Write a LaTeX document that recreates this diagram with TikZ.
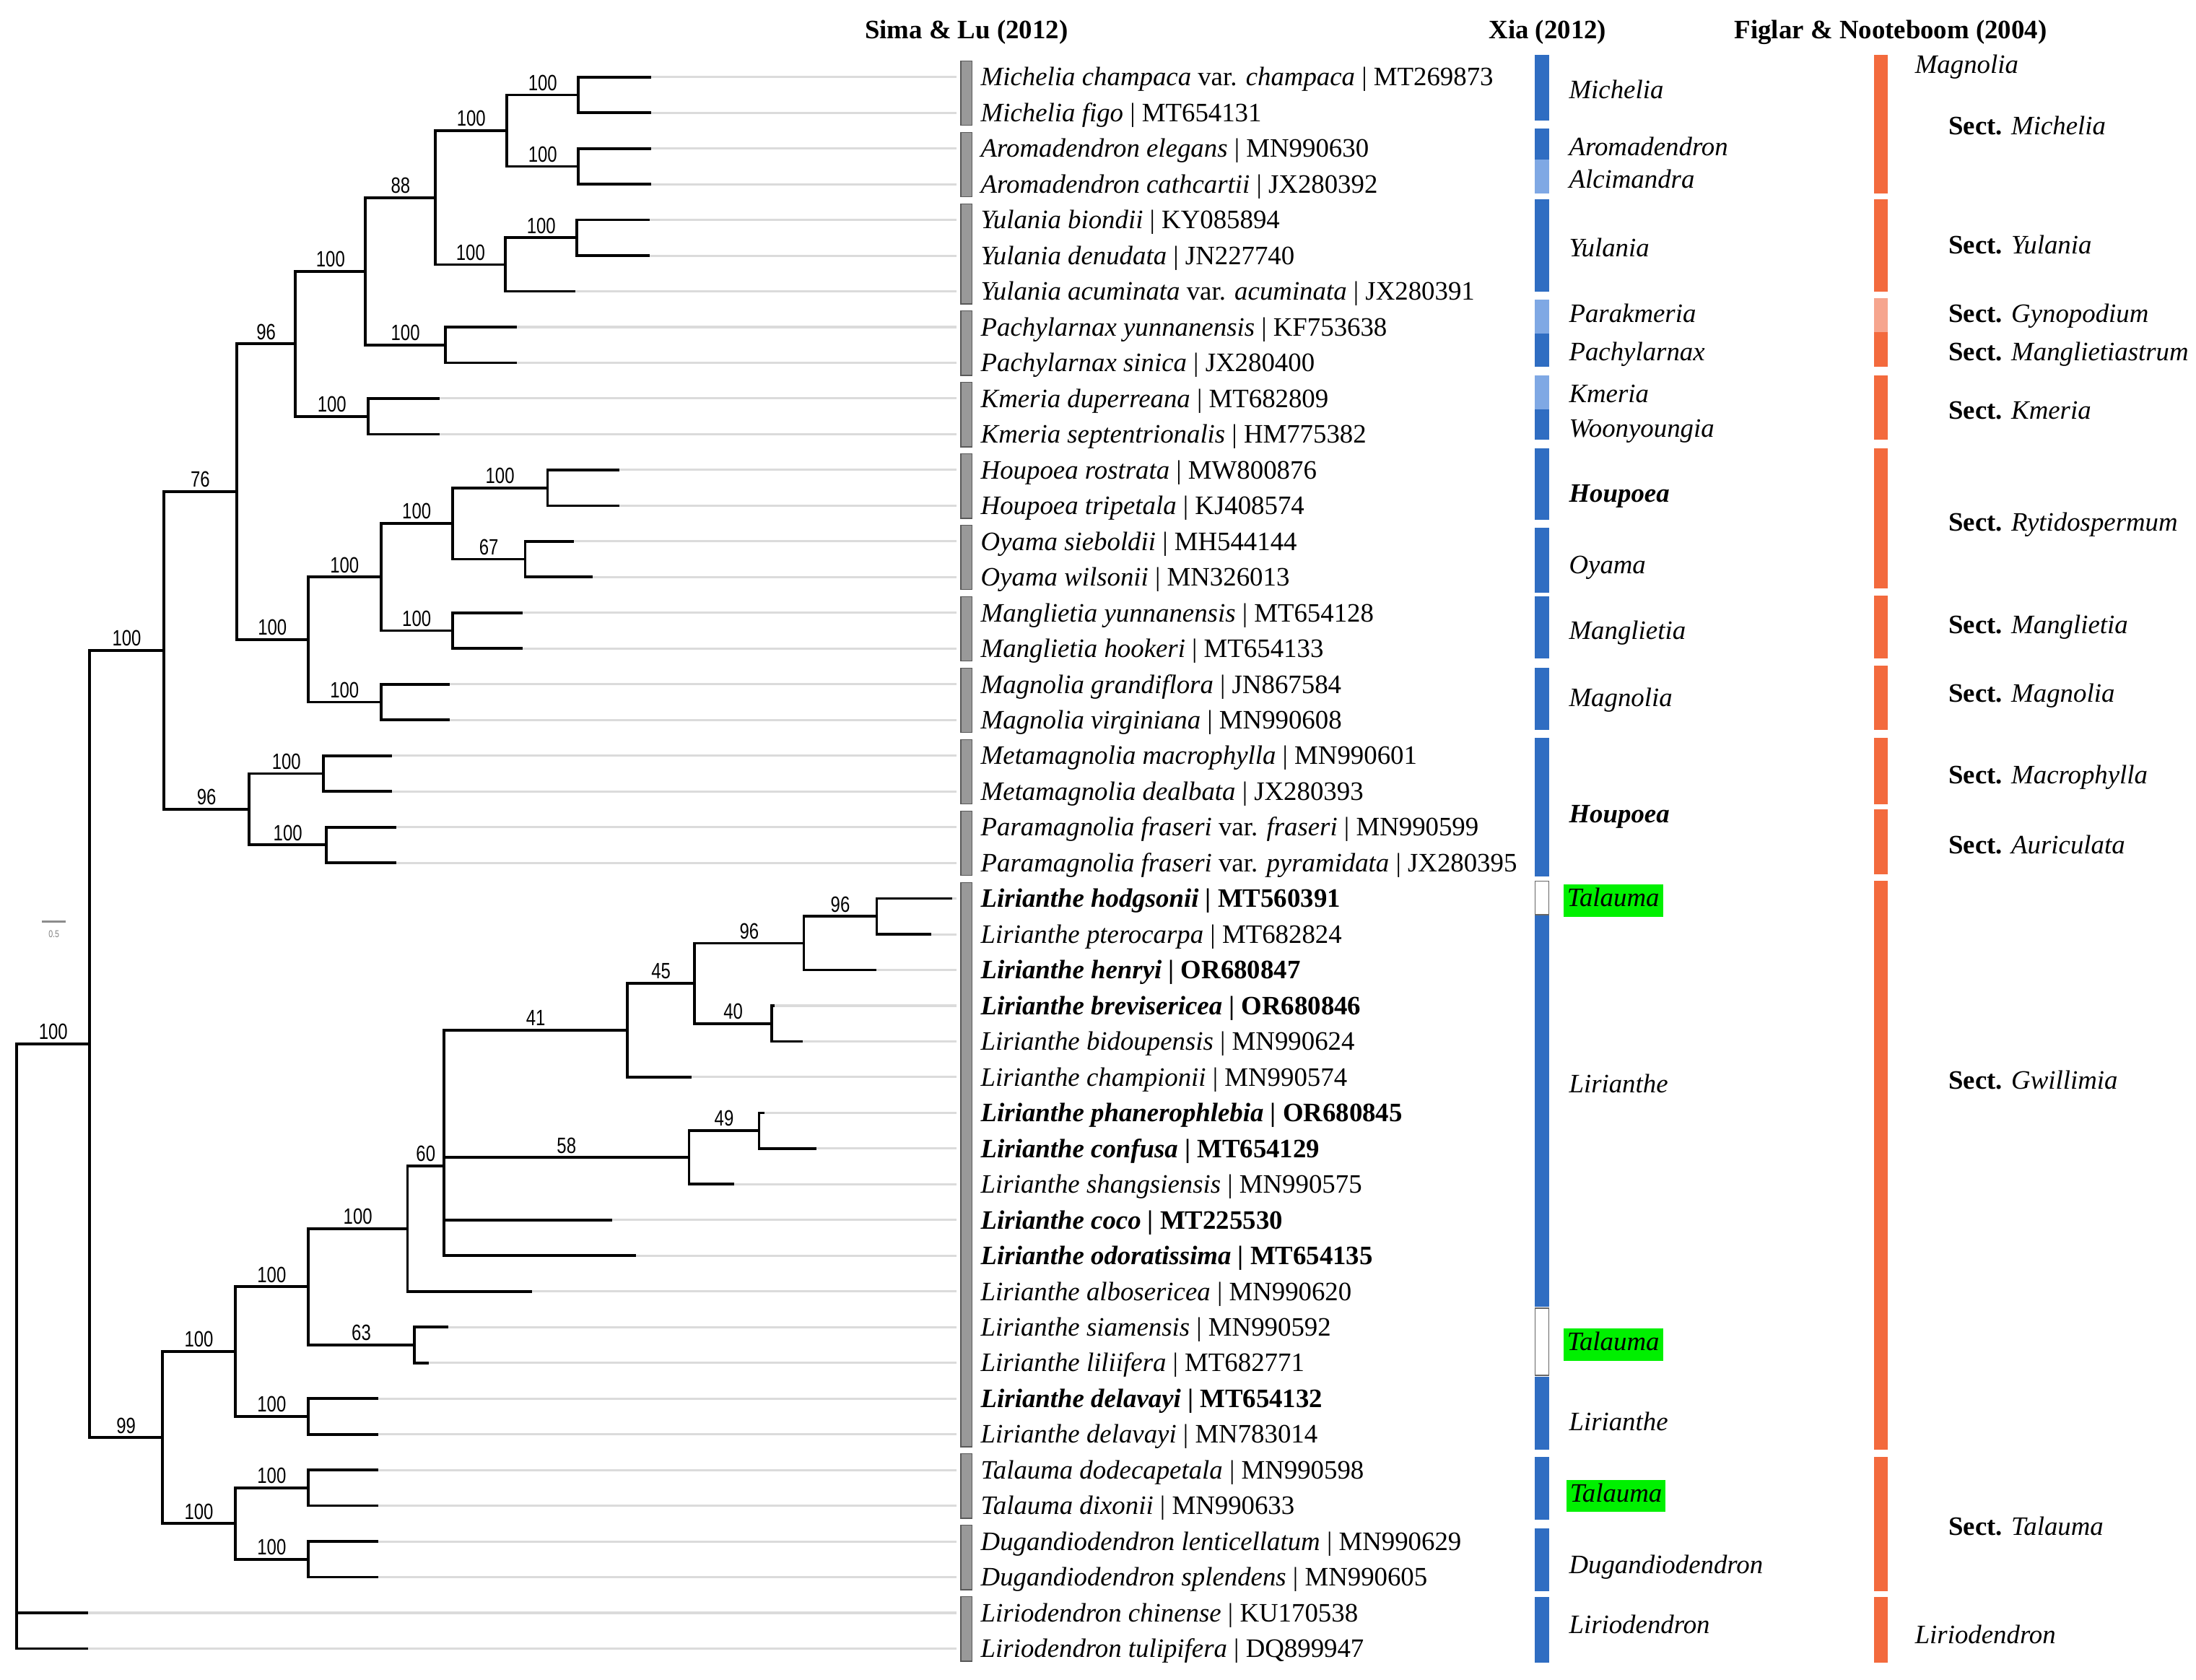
\documentclass[tikz,border=0pt]{standalone}
\usepackage{fontspec}
\setmainfont{Liberation Serif}
\newfontfamily\bsfont[FakeStretch=0.78]{Liberation Sans}
\usepackage{tikz}
\definecolor{xiadark}{HTML}{2F6DC2}
\definecolor{xialight}{HTML}{7FA8E4}
\definecolor{figorange}{HTML}{F36A3D}
\definecolor{figlight}{HTML}{F6A58E}
\definecolor{hilite}{HTML}{00F000}

\begin{document}
\begin{tikzpicture}[x=0.2mm, y=-0.2mm,
  br/.style={line width=1.1pt},
  ext/.style={line width=0.9pt, black!14},
  bs/.style={pos=.75, above, inner sep=1.2pt, font=\bsfont\fontsize{9}{9}\selectfont},
  taxon/.style={anchor=base west, inner sep=0pt, yshift=-3.6pt, font=\fontsize{10.8}{13}\selectfont},
  head/.style={anchor=base, inner sep=0pt, yshift=-3.6pt, font=\fontsize{10.8}{13}\selectfont\bfseries},
  tal/.style={taxon, fill=hilite, inner xsep=1.5pt, inner ysep=1.5pt, text height=7.5pt, text depth=2.5pt},
  sbar/.style={fill=black!40, draw=black!65, line width=0.4pt}]

\useasboundingbox (0,0) rectangle (1568,1199);

\foreach \x [count=\i from 0] in {465,465,465,465,464,464,411,369,369,314,314,442,442,410,423,373,373,321,321,280,280,283,283,680,665,626,553,573,494,546,583,524,437,454,380,320,306,270,270,270,270,270,270,63,63}
  \coordinate (l\i) at (\x, {55+25.5*\i});

\coordinate (ext) at (683, 0);
\coordinate (lab) at (700, 0);

\coordinate (root) at (12, 1024.6);
\coordinate (nIn) at (64, 745.4);
\coordinate (nMag) at (117, 464.4);
\coordinate (n76) at (169, 351);
\coordinate (n96a) at (211, 245.5);
\coordinate (nMY) at (261, 193.7);
\coordinate (n88) at (311, 141.1);
\coordinate (nMA) at (362, 93.25);
\coordinate (nMc) at (413, 67.75);
\coordinate (nAr) at (413, 118.75);
\coordinate (nYu) at (361, 188.9);
\coordinate (nYbd) at (412, 169.75);
\coordinate (nPa) at (318, 246.25);
\coordinate (nKm) at (263, 297.25);
\coordinate (nRy) at (220, 456.6);
\coordinate (nHOM) at (272, 412);
\coordinate (nHO) at (323, 373.75);
\coordinate (nHo) at (391, 348.25);
\coordinate (nOy) at (375, 399.25);
\coordinate (nMg) at (323, 450.25);
\coordinate (nMa) at (272, 501.25);
\coordinate (n96b) at (178, 577.75);
\coordinate (nMe) at (231, 552.25);
\coordinate (nPm) at (233, 603.25);
\coordinate (n99) at (116, 1026.4);
\coordinate (nLir) at (168, 965);
\coordinate (nGw) at (220, 918.7);
\coordinate (nLi) at (291, 877.2);
\coordinate (n60) at (317, 832.35);
\coordinate (n41) at (448, 735.5);
\coordinate (n45) at (496, 702.1);
\coordinate (n96c) at (574, 673.4);
\coordinate (nLh) at (626, 654.25);
\coordinate (n40) at (551, 730.75);
\coordinate (n58) at (492, 826.4);
\coordinate (n49) at (542, 807.25);
\coordinate (n63) at (296, 960.25);
\coordinate (nDe) at (220, 1011.25);
\coordinate (nTD) at (168, 1087.75);
\coordinate (nTa) at (220, 1062.25);
\coordinate (nDu) at (220, 1113.25);

\foreach \i in {0,...,44}
  \draw[ext] (l\i) -- (l\i -| ext);

\draw[br] (root) |- node[bs] {100} (nIn);
\draw[br] (root) |- (l43);
\draw[br] (root) |- (l44);
\draw[br] (nIn) |- node[bs] {100} (nMag);
\draw[br] (nIn) |- node[bs] {99} (n99);
\draw[br] (nMag) |- node[bs] {76} (n76);
\draw[br] (nMag) |- node[bs] {96} (n96b);
\draw[br] (n76) |- node[bs] {96} (n96a);
\draw[br] (n76) |- node[bs] {100} (nRy);
\draw[br] (n96a) |- node[bs] {100} (nMY);
\draw[br] (n96a) |- node[bs] {100} (nKm);
\draw[br] (nMY) |- node[bs] {88} (n88);
\draw[br] (nMY) |- node[bs] {100} (nPa);
\draw[br] (n88) |- node[bs] {100} (nMA);
\draw[br] (n88) |- node[bs] {100} (nYu);
\draw[br] (nMA) |- node[bs] {100} (nMc);
\draw[br] (nMA) |- node[bs] {100} (nAr);
\draw[br] (nMc) |- (l0);
\draw[br] (nMc) |- (l1);
\draw[br] (nAr) |- (l2);
\draw[br] (nAr) |- (l3);
\draw[br] (nYu) |- node[bs] {100} (nYbd);
\draw[br] (nYu) |- (l6);
\draw[br] (nYbd) |- (l4);
\draw[br] (nYbd) |- (l5);
\draw[br] (nPa) |- (l7);
\draw[br] (nPa) |- (l8);
\draw[br] (nKm) |- (l9);
\draw[br] (nKm) |- (l10);
\draw[br] (nRy) |- node[bs] {100} (nHOM);
\draw[br] (nRy) |- node[bs] {100} (nMa);
\draw[br] (nHOM) |- node[bs] {100} (nHO);
\draw[br] (nHOM) |- node[bs] {100} (nMg);
\draw[br] (nHO) |- node[bs] {100} (nHo);
\draw[br] (nHO) |- node[bs] {67} (nOy);
\draw[br] (nHo) |- (l11);
\draw[br] (nHo) |- (l12);
\draw[br] (nOy) |- (l13);
\draw[br] (nOy) |- (l14);
\draw[br] (nMg) |- (l15);
\draw[br] (nMg) |- (l16);
\draw[br] (nMa) |- (l17);
\draw[br] (nMa) |- (l18);
\draw[br] (n96b) |- node[bs] {100} (nMe);
\draw[br] (n96b) |- node[bs] {100} (nPm);
\draw[br] (nMe) |- (l19);
\draw[br] (nMe) |- (l20);
\draw[br] (nPm) |- (l21);
\draw[br] (nPm) |- (l22);
\draw[br] (n99) |- node[bs] {100} (nLir);
\draw[br] (n99) |- node[bs] {100} (nTD);
\draw[br] (nLir) |- node[bs] {100} (nGw);
\draw[br] (nLir) |- node[bs] {100} (nDe);
\draw[br] (nGw) |- node[bs] {100} (nLi);
\draw[br] (nGw) |- node[bs] {63} (n63);
\draw[br] (nLi) |- node[bs] {60} (n60);
\draw[br] (nLi) |- (l34);
\draw[br] (n60) |- node[bs] {41} (n41);
\draw[br] (n60) |- node[bs] {58} (n58);
\draw[br] (n60) |- (l32);
\draw[br] (n60) |- (l33);
\draw[br] (n41) |- node[bs] {45} (n45);
\draw[br] (n41) |- (l28);
\draw[br] (n45) |- node[bs] {96} (n96c);
\draw[br] (n45) |- node[bs] {40} (n40);
\draw[br] (n96c) |- node[bs] {96} (nLh);
\draw[br] (n96c) |- (l25);
\draw[br] (nLh) |- (l23);
\draw[br] (nLh) |- (l24);
\draw[br] (n40) |- (l26);
\draw[br] (n40) |- (l27);
\draw[br] (n58) |- node[bs] {49} (n49);
\draw[br] (n58) |- (l31);
\draw[br] (n49) |- (l29);
\draw[br] (n49) |- (l30);
\draw[br] (n63) |- (l35);
\draw[br] (n63) |- (l36);
\draw[br] (nDe) |- (l37);
\draw[br] (nDe) |- (l38);
\draw[br] (nTD) |- node[bs] {100} (nTa);
\draw[br] (nTD) |- node[bs] {100} (nDu);
\draw[br] (nTa) |- (l39);
\draw[br] (nTa) |- (l40);
\draw[br] (nDu) |- (l41);
\draw[br] (nDu) |- (l42);

\coordinate (sb1) at (30, 658);
\coordinate (sb2) at (47, 658);
\draw[black!45, line width=0.8pt] (sb1) -- (sb2);
\node[black!50, inner sep=0pt, font=\bsfont\fontsize{4}{4}\selectfont] (sbl) at (38.5, 667) {0.5};

\foreach \a/\b in {0/1, 2/3, 4/6, 7/8, 9/10, 11/12, 13/14, 15/16, 17/18, 19/20, 21/22, 23/38, 39/40, 41/42, 43/44}
  \draw[sbar] (686, {55+25.5*\a-11.5}) rectangle (694, {55+25.5*\b+9});

\node[taxon] (t0) at (lab |- l0) {\textit{Michelia champaca} var. \textit{champaca} | MT269873};
\node[taxon] (t1) at (lab |- l1) {\textit{Michelia figo} | MT654131};
\node[taxon] (t2) at (lab |- l2) {\textit{Aromadendron elegans} | MN990630};
\node[taxon] (t3) at (lab |- l3) {\textit{Aromadendron cathcartii} | JX280392};
\node[taxon] (t4) at (lab |- l4) {\textit{Yulania biondii} | KY085894};
\node[taxon] (t5) at (lab |- l5) {\textit{Yulania denudata} | JN227740};
\node[taxon] (t6) at (lab |- l6) {\textit{Yulania acuminata} var. \textit{acuminata} | JX280391};
\node[taxon] (t7) at (lab |- l7) {\textit{Pachylarnax yunnanensis} | KF753638};
\node[taxon] (t8) at (lab |- l8) {\textit{Pachylarnax sinica} | JX280400};
\node[taxon] (t9) at (lab |- l9) {\textit{Kmeria duperreana} | MT682809};
\node[taxon] (t10) at (lab |- l10) {\textit{Kmeria septentrionalis} | HM775382};
\node[taxon] (t11) at (lab |- l11) {\textit{Houpoea rostrata} | MW800876};
\node[taxon] (t12) at (lab |- l12) {\textit{Houpoea tripetala} | KJ408574};
\node[taxon] (t13) at (lab |- l13) {\textit{Oyama sieboldii} | MH544144};
\node[taxon] (t14) at (lab |- l14) {\textit{Oyama wilsonii} | MN326013};
\node[taxon] (t15) at (lab |- l15) {\textit{Manglietia yunnanensis} | MT654128};
\node[taxon] (t16) at (lab |- l16) {\textit{Manglietia hookeri} | MT654133};
\node[taxon] (t17) at (lab |- l17) {\textit{Magnolia grandiflora} | JN867584};
\node[taxon] (t18) at (lab |- l18) {\textit{Magnolia virginiana} | MN990608};
\node[taxon] (t19) at (lab |- l19) {\textit{Metamagnolia macrophylla} | MN990601};
\node[taxon] (t20) at (lab |- l20) {\textit{Metamagnolia dealbata} | JX280393};
\node[taxon] (t21) at (lab |- l21) {\textit{Paramagnolia fraseri} var. \textit{fraseri} | MN990599};
\node[taxon] (t22) at (lab |- l22) {\textit{Paramagnolia fraseri} var. \textit{pyramidata} | JX280395};
\node[taxon] (t23) at (lab |- l23) {\textbf{\textit{Lirianthe hodgsonii} | MT560391}};
\node[taxon] (t24) at (lab |- l24) {\textit{Lirianthe pterocarpa} | MT682824};
\node[taxon] (t25) at (lab |- l25) {\textbf{\textit{Lirianthe henryi} | OR680847}};
\node[taxon] (t26) at (lab |- l26) {\textbf{\textit{Lirianthe brevisericea} | OR680846}};
\node[taxon] (t27) at (lab |- l27) {\textit{Lirianthe bidoupensis} | MN990624};
\node[taxon] (t28) at (lab |- l28) {\textit{Lirianthe championii} | MN990574};
\node[taxon] (t29) at (lab |- l29) {\textbf{\textit{Lirianthe phanerophlebia} | OR680845}};
\node[taxon] (t30) at (lab |- l30) {\textbf{\textit{Lirianthe confusa} | MT654129}};
\node[taxon] (t31) at (lab |- l31) {\textit{Lirianthe shangsiensis} | MN990575};
\node[taxon] (t32) at (lab |- l32) {\textbf{\textit{Lirianthe coco} | MT225530}};
\node[taxon] (t33) at (lab |- l33) {\textbf{\textit{Lirianthe odoratissima} | MT654135}};
\node[taxon] (t34) at (lab |- l34) {\textit{Lirianthe albosericea} | MN990620};
\node[taxon] (t35) at (lab |- l35) {\textit{Lirianthe siamensis} | MN990592};
\node[taxon] (t36) at (lab |- l36) {\textit{Lirianthe liliifera} | MT682771};
\node[taxon] (t37) at (lab |- l37) {\textbf{\textit{Lirianthe delavayi} | MT654132}};
\node[taxon] (t38) at (lab |- l38) {\textit{Lirianthe delavayi} | MN783014};
\node[taxon] (t39) at (lab |- l39) {\textit{Talauma dodecapetala} | MN990598};
\node[taxon] (t40) at (lab |- l40) {\textit{Talauma dixonii} | MN990633};
\node[taxon] (t41) at (lab |- l41) {\textit{Dugandiodendron lenticellatum} | MN990629};
\node[taxon] (t42) at (lab |- l42) {\textit{Dugandiodendron splendens} | MN990605};
\node[taxon] (t43) at (lab |- l43) {\textit{Liriodendron chinense} | KU170538};
\node[taxon] (t44) at (lab |- l44) {\textit{Liriodendron tulipifera} | DQ899947};

\foreach \a/\b/\c in {39/86/xiadark, 92/114/xiadark, 114/138/xialight, 142/208/xiadark, 214/238/xialight, 238/262/xiadark, 268/292/xialight, 292/314/xiadark, 320/371/xiadark, 377/423/xiadark, 426/470/xiadark, 477/521/xiadark, 527/626/xiadark, 653/933/xiadark, 983/1035/xiadark, 1040/1085/xiadark, 1091/1136/xiadark, 1140/1187/xiadark}
  \fill[\c] (1096, \a) rectangle (1106, \b);
\foreach \a/\b in {629/653, 934/982}
  \draw[black!60, fill=white, line width=0.4pt] (1096, \a) rectangle (1106, \b);

\foreach \a/\b/\c in {39/138/figorange, 142/208/figorange, 213/237/figlight, 237/262/figorange, 268/314/figorange, 320/420/figorange, 425/470/figorange, 475/521/figorange, 527/574/figorange, 578/624/figorange, 629/1035/figorange, 1040/1136/figorange, 1140/1187/figorange}
  \fill[\c] (1338, \a) rectangle (1348, \b);

\node[head] (hSima) at (690, 21) {Sima \& Lu (2012)};
\node[head] (hXia) at (1105, 21) {Xia (2012)};
\node[head] (hFig) at (1350, 21) {Figlar \& Nooteboom (2004)};

\node[taxon] (xMich) at (1120, 64) {\textit{Michelia}};
\node[taxon] (xArom) at (1120, 105) {\textit{Aromadendron}};
\node[taxon] (xAlci) at (1120, 128) {\textit{Alcimandra}};
\node[taxon] (xYul) at (1120, 177) {\textit{Yulania}};
\node[taxon] (xPara) at (1120, 224) {\textit{Parakmeria}};
\node[taxon] (xPach) at (1120, 251) {\textit{Pachylarnax}};
\node[taxon] (xKme) at (1120, 281) {\textit{Kmeria}};
\node[taxon] (xWoon) at (1120, 306) {\textit{Woonyoungia}};
\node[taxon] (xHou1) at (1120, 352) {\textbf{\textit{Houpoea}}};
\node[taxon] (xOya) at (1120, 403) {\textit{Oyama}};
\node[taxon] (xMang) at (1120, 450) {\textit{Manglietia}};
\node[taxon] (xMag) at (1120, 498) {\textit{Magnolia}};
\node[taxon] (xHou2) at (1120, 581) {\textbf{\textit{Houpoea}}};
\node[tal] (xTal1) at (1116, 641) {\textit{Talauma}};
\node[taxon] (xLir1) at (1120, 774) {\textit{Lirianthe}};
\node[tal] (xTal2) at (1116, 958) {\textit{Talauma}};
\node[taxon] (xLir2) at (1120, 1015) {\textit{Lirianthe}};
\node[tal] (xTal3) at (1118, 1066) {\textit{Talauma}};
\node[taxon] (xDug) at (1120, 1117) {\textit{Dugandiodendron}};
\node[taxon] (xLiro) at (1120, 1160) {\textit{Liriodendron}};

\node[taxon] (fMag) at (1367, 46) {\textit{Magnolia}};
\node[taxon] (fMich) at (1391, 90) {\textbf{Sect.} \textit{Michelia}};
\node[taxon] (fYul) at (1391, 175) {\textbf{Sect.} \textit{Yulania}};
\node[taxon] (fGyn) at (1391, 224) {\textbf{Sect.} \textit{Gynopodium}};
\node[taxon] (fMgs) at (1391, 251) {\textbf{Sect.} \textit{Manglietiastrum}};
\node[taxon] (fKme) at (1391, 293) {\textbf{Sect.} \textit{Kmeria}};
\node[taxon] (fRyt) at (1391, 373) {\textbf{Sect.} \textit{Rytidospermum}};
\node[taxon] (fMang) at (1391, 446) {\textbf{Sect.} \textit{Manglietia}};
\node[taxon] (fMagn) at (1391, 495) {\textbf{Sect.} \textit{Magnolia}};
\node[taxon] (fMac) at (1391, 553) {\textbf{Sect.} \textit{Macrophylla}};
\node[taxon] (fAur) at (1391, 603) {\textbf{Sect.} \textit{Auriculata}};
\node[taxon] (fGwi) at (1391, 771) {\textbf{Sect.} \textit{Gwillimia}};
\node[taxon] (fTal) at (1391, 1090) {\textbf{Sect.} \textit{Talauma}};
\node[taxon] (fLiro) at (1367, 1167) {\textit{Liriodendron}};

\end{tikzpicture}
\end{document}
